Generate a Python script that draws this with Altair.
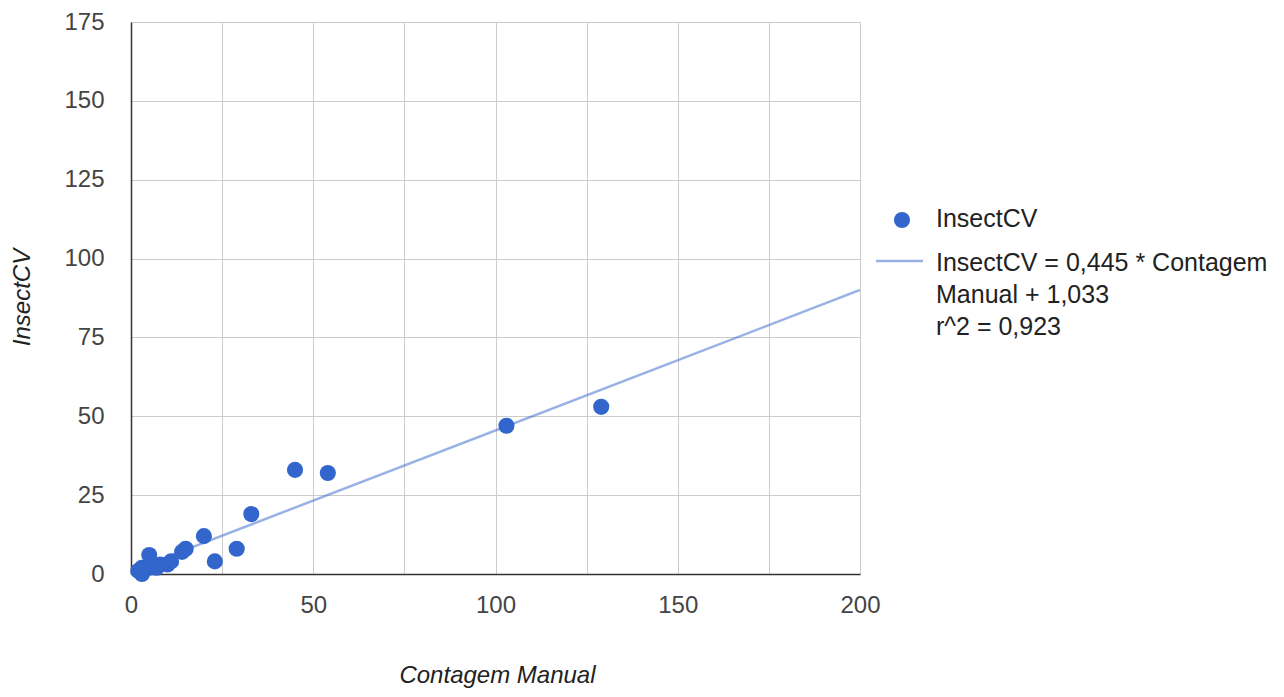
import altair as alt
import pandas as pd

# Data
contagem_manual = [2, 3, 3, 4, 5, 5, 7, 8, 10, 11, 14, 15, 20, 23, 29, 33, 45, 54, 103, 129]
insect_cv = [1, 0, 2, 2, 6, 2, 2, 3, 3, 4, 7, 8, 12, 4, 8, 19, 33, 32, 47, 53]

# Trendline as stated in the legend
slope = 0.445
intercept = 1.033
trend_x = [0, 200]

x_ticks = [0, 25, 50, 75, 100, 125, 150, 175, 200]
y_ticks = [0, 25, 50, 75, 100, 125, 150, 175]

series_label = "InsectCV"
trend_label = "InsectCV = 0,445 * Contagem\nManual + 1,033\nr^2 = 0,923"

FONT = "Liberation Sans"
BLUE = "#3366cc"

pts = pd.DataFrame({"x": contagem_manual, "y": insect_cv})
trend = pd.DataFrame({"x": trend_x, "y": [slope * v + intercept for v in trend_x]})
leg = pd.DataFrame({"a": [0]})

W, H = 729, 552

x_scale = alt.Scale(domain=[0, 200], nice=False, zero=True)
y_scale = alt.Scale(domain=[0, 175], nice=False, zero=True)

x_axis = alt.Axis(
    values=x_ticks,
    labelExpr="datum.value % 50 == 0 ? datum.label : ''",
    title="Contagem Manual",
    titleFontStyle="italic",
    titleFontWeight="normal",
    titleFontSize=24,
    titleColor="#222222",
    titleFont=FONT,
    titleX=366,
    titleY=108,
    titleBaseline="alphabetic",
    titleAlign="center",
    labelFont=FONT,
    labelFontSize=24,
    labelColor="#444444",
    labelPadding=19,
    labelFlush=False,
    tickSize=0,
    domainColor="#333333",
    domainWidth=1.5,
    gridColor="#cccccc",
    gridWidth=1,
)
y_axis = alt.Axis(
    values=y_ticks,
    title="InsectCV",
    titleFontStyle="italic",
    titleFontWeight="normal",
    titleFontSize=24,
    titleColor="#222222",
    titleFont=FONT,
    titleAngle=-90,
    titleX=-109,
    titleY=275,
    titleBaseline="middle",
    titleAlign="center",
    labelFont=FONT,
    labelFontSize=24,
    labelColor="#444444",
    labelPadding=27,
    labelFlush=False,
    tickSize=0,
    domainColor="#333333",
    domainWidth=1.5,
    gridColor="#cccccc",
    gridWidth=1,
)

line = alt.Chart(trend).mark_line(color=BLUE, opacity=0.5, strokeWidth=2.5, clip=True).encode(
    x=alt.X("x:Q", scale=x_scale, axis=x_axis),
    y=alt.Y("y:Q", scale=y_scale, axis=y_axis),
)

points = alt.Chart(pts).mark_circle(color=BLUE, opacity=1, size=260).encode(
    x=alt.X("x:Q", scale=x_scale),
    y=alt.Y("y:Q", scale=y_scale),
)

leg_circle = alt.Chart(leg).mark_circle(color=BLUE, opacity=1, size=260).encode(
    x=alt.value(771), y=alt.value(198)
)
leg_rule = alt.Chart(leg).mark_rule(color=BLUE, opacity=0.5, strokeWidth=2.5).encode(
    x=alt.value(745), x2=alt.value(792), y=alt.value(239)
)
leg_text1 = alt.Chart(leg).mark_text(
    text=series_label, align="left", baseline="alphabetic", font=FONT, fontSize=25, color="#222222"
).encode(x=alt.value(805), y=alt.value(205))
leg_text2 = alt.Chart(leg).mark_text(
    text=trend_label, lineBreak="\n", lineHeight=32, align="left", baseline="alphabetic",
    font=FONT, fontSize=25, color="#222222"
).encode(x=alt.value(805), y=alt.value(249))

chart = alt.layer(line, points, leg_circle, leg_rule, leg_text1, leg_text2).properties(
    width=W,
    height=H,
    autosize=alt.AutoSizeParams(type="none"),
    padding={"left": 123, "top": 14, "right": 412, "bottom": 115},
    background="white",
).configure_view(strokeWidth=0)

chart.save("out.html", embed_options={"renderer": "svg", "actions": False})
